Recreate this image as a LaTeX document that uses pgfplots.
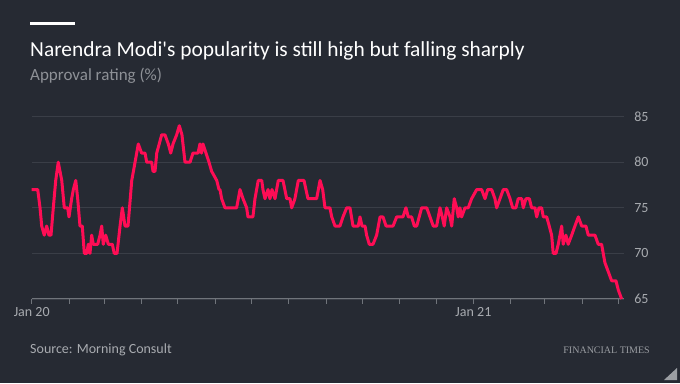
\documentclass[border=0pt]{standalone}
\usepackage{fontspec}
\setmainfont{Carlito}
\newfontfamily\ftserif{Liberation Serif}
\usepackage{pgfplots}
\pgfplotsset{compat=1.18}
\definecolor{bg}{HTML}{262A33}
\definecolor{linecol}{HTML}{FF0D55}
\definecolor{gridcol}{HTML}{3A3E47}
\definecolor{axisgray}{HTML}{70747B}
\definecolor{ticklab}{HTML}{A8ABB0}
\definecolor{subt}{HTML}{8E9197}
\definecolor{ftgray}{HTML}{9A9DA2}
\begin{document}
\begin{tikzpicture}[x=1pt,y=1pt]
\fill[bg] (0,0) rectangle (680,383);
\fill[white] (30,357.5) rectangle (75,360.8);
\node[anchor=base west, inner sep=0, text=white, font=\fontsize{21.4}{24}\selectfont] at (30,326) {Narendra Modi\textquotesingle s popularity is still high but falling sharply};
\node[anchor=base west, inner sep=0, text=subt, font=\fontsize{17}{20}\selectfont] at (30,302) {Approval rating (\%)};
\node[anchor=base west, inner sep=0, text=ticklab, font=\fontsize{14}{16}\selectfont] at (30,30) {Source: Morning Consult};
\node[anchor=base east, inner sep=0, text=ftgray, font=\ftserif\fontsize{10}{12}\selectfont] at (650,30) {FINANCIAL TIMES};
\fill[axisgray!70] (677,15) -- (677,3) -- (664,3) -- cycle;
\begin{axis}[
  at={(31.7pt,84pt)}, anchor=south west,
  scale only axis, width=592.6pt, height=182.4pt,
  xmin=0, xmax=491, ymin=65, ymax=85,
  clip=false,
  axis x line=bottom, axis y line=right,
  x axis line style={draw=axisgray, line width=1pt, -},
  y axis line style={draw=none},
  ytick={65,70,75,80,85},
  ymajorgrids, grid style={draw=gridcol, line width=0.9pt},
  ytick style={draw=none},
  xtick={0,31,60,91,121,152,182,213,244,274,305,335,366,397,425,456,486},
  xticklabels={Jan 20,,,,,,,,,,,,Jan 21,,,,},
  xtick align=outside, major tick length=5pt,
  xtick style={draw=axisgray, line width=0.8pt},
  tick label style={font=\fontsize{14}{16}\selectfont, text=ticklab},
  /pgf/number format/assume math mode=true,
  yticklabel style={xshift=4pt},
]
\addplot[linecol, line width=3pt, line join=round] table {
0 77
5.0 77
6.9 75
8.3 73
10.4 72
12.4 73
14.3 72
16.0 72
17.9 75
19.9 78
22.0 80
24.9 78
27.0 75
29.8 75
30.9 74
33.1 76
34.5 77
36.5 78
38.1 76
40.0 73
41.9 73
43.6 70
45.6 70
46.9 71
48.3 70
49.7 72
51.0 71
54.7 71
56.6 72
58.0 73
59.3 71
61.3 72
63.5 71
66.8 71
68.4 70
70.7 70
73.2 73
75.1 75
77.3 73
79.8 73
82.9 78
87.0 81
88.3 82
91.1 81
93.9 81
95.3 80
99.4 80
100.5 79
102.2 79
103.6 81
107.7 83
110.4 83
113.2 82
115.2 81
117.1 82
120.1 83
122.3 84
124.5 83
127.0 80
131.2 80
133.6 81
137.8 81
139.4 82
140.7 81
141.9 82
144.4 81
146.9 80
149.1 79
153.3 78
155.2 77
156.0 77
157.4 76
160.1 75
169.8 75
172.6 77
175.1 76
178.1 75
179.2 74
183.3 74
185.0 76
187.7 78
190.6 78
191.6 77
193.3 76
195.8 77
197.4 76
199.1 77
201.6 76
204.3 78
208.2 78
211.3 76
214.0 76
215.4 75
218.1 76
220.9 78
225.6 78
228.9 76
236.1 76
238.9 78
241.1 77
243.0 75
247.1 75
248.6 74
251.3 73
255.4 73
257.9 74
261.0 75
263.7 75
266.2 73
270.6 73
272.0 74
273.7 73
276.2 73
277.5 72
279.7 71
282.8 71
285.8 72
288.6 74
291.1 74
293.6 73
299.4 73
302.4 74
307.6 74
310.1 75
312.0 74
314.8 74
317.0 73
319.0 73
323.1 75
327.3 75
330.0 74
332.7 73
335.5 73
338.3 75
340.2 74
341.8 73
343.8 75
346.6 74
348.0 73
350.1 76
352.1 75
353.4 74
354.8 75
356.2 74
359.0 75
361.7 75
364.5 76
368.7 77
372.8 77
375.6 76
377.8 77
381.1 77
383.8 76
385.2 75
388.0 76
390.7 77
393.5 77
396.3 76
398.5 75
401.2 75
403.1 76
406.0 76
407.3 75
409.5 76
412.3 76
414.2 75
417.0 75
418.4 74
420.3 75
422.5 75
423.9 74
426.7 74
428.8 73
430.8 72
432.1 70
434.4 70
436.3 71
439.1 73
440.4 71
442.6 72
444.5 71
447.4 72
450.1 73
452.9 74
455.7 73
459.2 73
461.1 72
466.7 72
469.4 71
472.2 71
474.9 69
477.7 68
480.5 67
484.1 67
486.0 66
488.8 65
};
\end{axis}
\end{tikzpicture}
\end{document}
